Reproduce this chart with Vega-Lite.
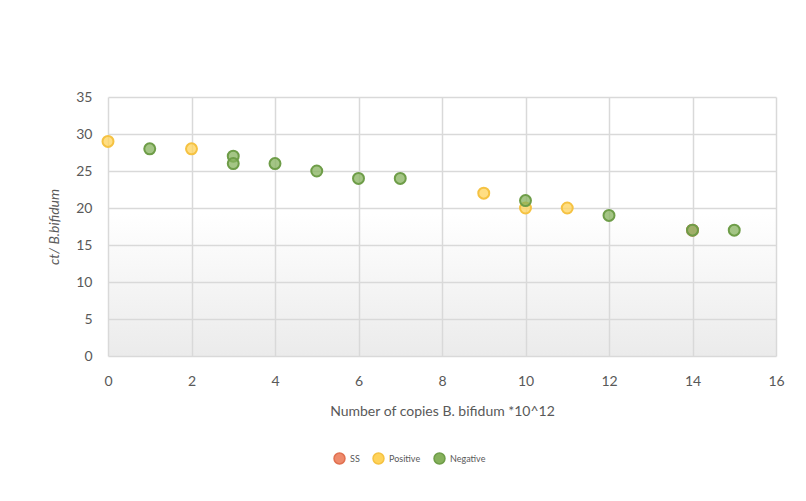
{
  "$schema": "https://vega.github.io/schema/vega-lite/v6.json",
  "width": 668,
  "height": 259,
  "autosize": {"type": "none"},
  "padding": {"left": 108, "top": 97, "right": 30, "bottom": 145},
  "background": "white",
  "config": {
    "font": "Lato",
    "view": {"stroke": null, "fill": {"gradient": "linear", "x1": 0, "y1": 0, "x2": 0, "y2": 1, "stops": [{"offset": 0, "color": "#ffffff"}, {"offset": 0.45, "color": "#ffffff"}, {"offset": 1, "color": "#ebebeb"}]}},
    "axis": {"labelFont": "Lato", "titleFont": "Lato", "labelColor": "#595959", "titleColor": "#595959", "labelFontSize": 14, "titleFontSize": 14, "titleFontWeight": "normal", "gridColor": "#d9d9d9", "gridWidth": 1.5, "domain": false, "ticks": false, "labelFlush": false}
  },
  "data": {
    "values": [
      {"x": 0, "ct": 29, "group": "Positive"},
      {"x": 2, "ct": 28, "group": "Positive"},
      {"x": 9, "ct": 22, "group": "Positive"},
      {"x": 10, "ct": 20, "group": "Positive"},
      {"x": 11, "ct": 20, "group": "Positive"},
      {"x": 14, "ct": 17, "group": "SS"},
      {"x": 1, "ct": 28, "group": "Negative"},
      {"x": 3, "ct": 27, "group": "Negative"},
      {"x": 3, "ct": 26, "group": "Negative"},
      {"x": 4, "ct": 26, "group": "Negative"},
      {"x": 5, "ct": 25, "group": "Negative"},
      {"x": 6, "ct": 24, "group": "Negative"},
      {"x": 7, "ct": 24, "group": "Negative"},
      {"x": 10, "ct": 21, "group": "Negative"},
      {"x": 12, "ct": 19, "group": "Negative"},
      {"x": 14, "ct": 17, "group": "Negative"},
      {"x": 15, "ct": 17, "group": "Negative"}
    ]
  },
  "mark": {"type": "point", "shape": "circle", "filled": true, "size": 120, "strokeWidth": 2, "fillOpacity": 0.75},
  "encoding": {
    "x": {"field": "x", "type": "quantitative", "scale": {"domain": [0, 16]}, "axis": {"values": [0, 2, 4, 6, 8, 10, 12, 14, 16], "title": "Number of copies B. bifidum *10^12", "labelPadding": 18, "titlePadding": 16}},
    "y": {"field": "ct", "type": "quantitative", "scale": {"domain": [0, 35]}, "axis": {"values": [0, 5, 10, 15, 20, 25, 30, 35], "title": "ct/ B.bifidum", "titleFontStyle": "italic", "labelPadding": 16, "titlePadding": 14}},
    "color": {"field": "group", "type": "nominal", "scale": {"domain": ["SS", "Positive", "Negative"], "range": ["#ee8a6c", "#ffd35a", "#86b15c"]}, "legend": {"title": null, "orient": "none", "legendX": 225, "legendY": 355, "direction": "horizontal", "labelFontSize": 9, "labelColor": "#595959", "symbolSize": 120, "columnPadding": 10, "labelOffset": 4}},
    "stroke": {"field": "group", "type": "nominal", "scale": {"domain": ["SS", "Positive", "Negative"], "range": ["#e07050", "#f5c242", "#6e9d48"]}, "legend": null},
    "order": {"field": "group", "sort": "descending"}
  }
}
